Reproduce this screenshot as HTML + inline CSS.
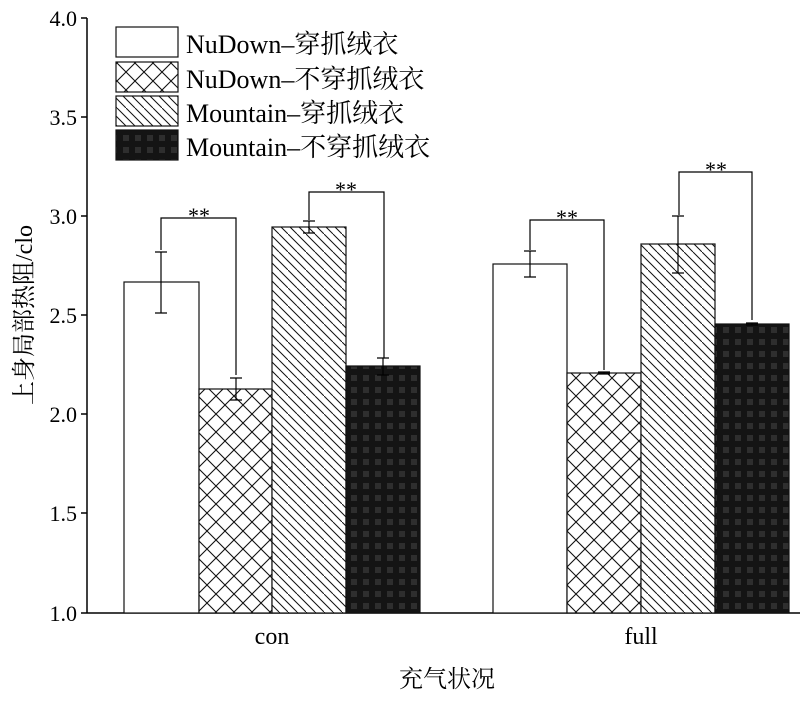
<!DOCTYPE html>
<html><head><meta charset="utf-8"><style>body{margin:0;background:#fff}</style></head><body>
<svg width="800" height="702" xmlns="http://www.w3.org/2000/svg" font-family="Liberation Serif, Noto Serif CJK SC, serif">
<defs>
<pattern id="cross" width="18" height="18" patternUnits="userSpaceOnUse"><rect width="18" height="18" fill="#fff"/><path d="M0 0L18 18M18 0L0 18" stroke="#111" stroke-width="1.1"/></pattern>
<pattern id="diag" width="18" height="18" patternUnits="userSpaceOnUse"><rect width="18" height="18" fill="#fff"/><path d="M-9 0L9 18M0 0L18 18M9 0L27 18" stroke="#111" stroke-width="1"/></pattern>
<pattern id="dark" width="12" height="12" patternUnits="userSpaceOnUse"><rect width="12" height="12" fill="#141414"/><rect x="3" y="3" width="6" height="6" fill="#2e2e2e"/></pattern>
</defs>
<g stroke="#000" stroke-width="1.5" fill="none">
<line x1="87" y1="18" x2="87" y2="613"/><line x1="87" y1="613" x2="800" y2="613"/>
<path d="M81 18H87M81 117H87M81 216H87M81 315H87M81 414H87M81 513H87M81 613H87"/>
</g>
<g font-size="22" text-anchor="end">
<text x="77" y="26">4.0</text><text x="77" y="125">3.5</text><text x="77" y="224">3.0</text><text x="77" y="323">2.5</text><text x="77" y="422">2.0</text><text x="77" y="521">1.5</text><text x="77" y="621">1.0</text>
</g>
<g stroke="#111" stroke-width="1.2">
<rect x="124" y="282" width="75" height="331" fill="#fff"/>
<rect x="199" y="389" width="73" height="224" fill="url(#cross)"/>
<rect x="272" y="227" width="74" height="386" fill="url(#diag)"/>
<rect x="346" y="366" width="74" height="247" fill="url(#dark)"/>
<rect x="493" y="264" width="74" height="349" fill="#fff"/>
<rect x="567" y="373" width="74" height="240" fill="url(#cross)"/>
<rect x="641" y="244" width="74" height="369" fill="url(#diag)"/>
<rect x="715" y="324" width="74" height="289" fill="url(#dark)"/>
</g>
<g stroke="#000" stroke-width="1.2" fill="none">
<path d="M161 252V313M155 252H167M155 313H167"/>
<path d="M236 378V400M230 378H242M230 400H242"/>
<path d="M309 221V233M303 221H315M303 233H315"/>
<path d="M383 358V375M377 358H389M377 375H389"/>
<path d="M530 251V277M524 251H536M524 277H536"/>
<path d="M604 372V374M598 372H610M598 374H610"/>
<path d="M678 216V273M672 216H684M672 273H684"/>
<path d="M752 323V325M746 323H758M746 325H758"/>
<path d="M161 250V218H236V375"/>
<path d="M309 220V192H384V358"/>
<path d="M530 250V220H604V370"/>
<path d="M679 215V172H752V320"/>
</g>
<g font-size="22" text-anchor="middle">
<text x="199" y="223">**</text><text x="346" y="197">**</text><text x="567" y="225">**</text><text x="716" y="177">**</text>
</g>
<g stroke="#111" stroke-width="1.2">
<rect x="116" y="27" width="62" height="30" fill="#fff"/>
<rect x="116" y="62" width="62" height="30" fill="url(#cross)"/>
<rect x="116" y="96" width="62" height="30" fill="url(#diag)"/>
<rect x="116" y="130" width="62" height="30" fill="url(#dark)"/>
</g>
<g font-size="26">
<text x="186" y="53">NuDown–穿抓绒衣</text>
<text x="186" y="88">NuDown–不穿抓绒衣</text>
<text x="186" y="122">Mountain–穿抓绒衣</text>
<text x="186" y="156">Mountain–不穿抓绒衣</text>
</g>
<g font-size="24" text-anchor="middle">
<text x="272" y="644">con</text><text x="641" y="644">full</text>
<text x="447" y="687">充气状况</text>
<text transform="translate(32,315) rotate(-90)">上身局部热阻/clo</text>
</g>
</svg>
</body></html>
